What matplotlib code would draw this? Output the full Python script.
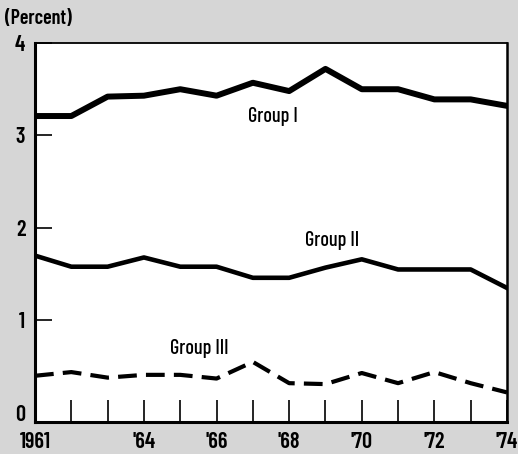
import matplotlib
matplotlib.use("Agg")
import matplotlib.pyplot as plt

years = list(range(1961, 1975))
group1 = [3.21, 3.21, 3.42, 3.43, 3.50, 3.43, 3.57, 3.48, 3.72, 3.50, 3.50, 3.39, 3.39, 3.32]
group2 = [1.70, 1.58, 1.58, 1.68, 1.58, 1.58, 1.46, 1.46, 1.57, 1.66, 1.55, 1.55, 1.55, 1.35]
group3 = [0.40, 0.44, 0.38, 0.41, 0.41, 0.37, 0.55, 0.32, 0.31, 0.43, 0.32, 0.44, 0.32, 0.22]
x_tick_labels = ["1961", "", "", "'64", "", "'66", "", "'68", "", "'70", "", "'72", "", "'74"]
y_ticks = [0, 1, 2, 3, 4]

FONT = ["Barlow Condensed", "DejaVu Sans"]
BG = "#d6d6d6"

fig = plt.figure(figsize=(5.18, 4.54), dpi=100, facecolor=BG)
ax = fig.add_axes([35/518, 1-422/454, (507-35)/518, (422-43)/454])
ax.set_facecolor("white")

ax.plot(years, group1, color="black", lw=4.3, zorder=3)
ax.plot(years, group2, color="black", lw=3.3, zorder=3)
ax.plot(years, group3, color="black", lw=3.0, dashes=(4.5, 2.2), zorder=3)

ax.set_xlim(1961, 1974)
ax.set_ylim(-0.1, 4.0)

ax.set_xticks(years)
ax.set_xticklabels(x_tick_labels, fontfamily=FONT, fontweight="semibold", fontsize=16)
ax.set_yticks(y_ticks)
ax.set_yticklabels([str(v) for v in y_ticks], fontfamily=FONT, fontweight="semibold", fontsize=16)
ax.tick_params(axis="x", direction="in", length=15.5, width=1.2, pad=7)
ax.tick_params(axis="y", direction="in", length=12, width=1.2, pad=7)
ax.yaxis.get_major_ticks()[0].tick1line.set_visible(False)

for side, w in [("left", 2.2), ("bottom", 2.2), ("top", 1.3), ("right", 1.8)]:
    ax.spines[side].set_linewidth(w)

ax.text(1966.87, 3.2, "Group I", fontfamily=FONT, fontweight="medium", fontsize=14.5, ha="left", va="center")
ax.text(1968.44, 1.86, "Group II", fontfamily=FONT, fontweight="medium", fontsize=14.5, ha="left", va="center")
ax.text(1964.72, 0.70, "Group III", fontfamily=FONT, fontweight="medium", fontsize=14.5, ha="left", va="center")

fig.text(5/518, 1-18/454, "(Percent)", fontfamily=FONT, fontweight="semibold", fontsize=14.5,
         ha="left", va="center")

fig.savefig("out.png", dpi=100, facecolor=BG)
